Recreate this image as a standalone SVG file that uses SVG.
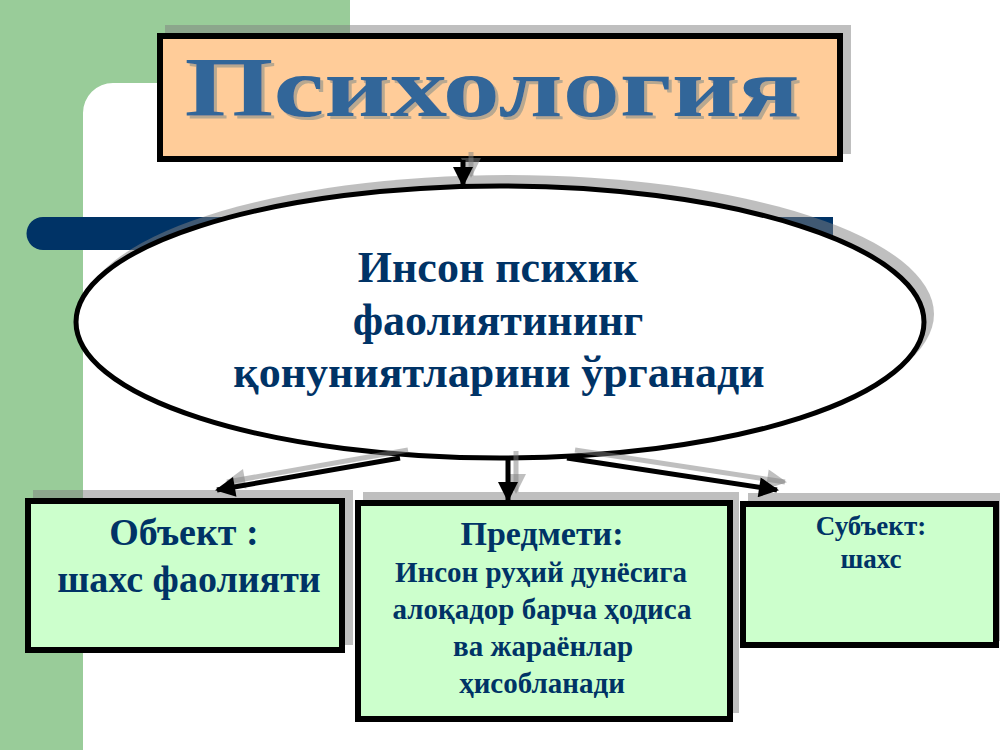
<svg xmlns="http://www.w3.org/2000/svg" width="1000" height="750" viewBox="0 0 1000 750">
<defs>
<style>
.sh{fill:#808080;fill-opacity:0.5}
.box{stroke:#000;stroke-width:6}
.t{font-family:"Liberation Serif","Times New Roman",serif;font-weight:bold;fill:#003366;text-anchor:middle}
.ln{stroke:#000;stroke-width:5;fill:none}
.lns{stroke:#808080;stroke-opacity:0.5;stroke-width:5;fill:none}
</style>
<filter id="tshadow" x="-5%" y="-20%" width="110%" height="140%">
<feOffset in="SourceAlpha" dx="3" dy="3" result="off"/>
<feFlood flood-color="#b8a890"/>
<feComposite operator="in" in2="off" result="shadow"/>
<feMerge><feMergeNode in="shadow"/><feMergeNode in="SourceGraphic"/></feMerge>
</filter>
<marker id="ah" viewBox="0 0 10 10" refX="9" refY="5" markerWidth="4.4" markerHeight="4" markerUnits="strokeWidth" orient="auto">
<path d="M0,0 L10,5 L0,10 z" fill="#000"/>
</marker>
<marker id="ahs" viewBox="0 0 10 10" refX="9" refY="5" markerWidth="4.4" markerHeight="4" markerUnits="strokeWidth" orient="auto">
<path d="M0,0 L10,5 L0,10 z" fill="#808080" fill-opacity="0.5"/>
</marker>
</defs>
<g id="background">
<rect x="0" y="0" width="1000" height="750" fill="#ffffff"/>
<path d="M0,0 H350 V83 H113 A30,30 0 0 0 83,113 V750 H0 Z" fill="#99cc99"/>
<path d="M43,217 H833 V250 H43 A16.5,16.5 0 0 1 43,217 Z" fill="#003366"/>
</g>
<g id="title">
<rect class="sh" x="165" y="25" width="686" height="129"/>
<rect class="box" x="160" y="36" width="680" height="123" fill="#ffcc99"/>
<text x="492" y="116" font-family="'Liberation Serif','Times New Roman',serif" font-weight="bold" font-size="85" fill="#336699" text-anchor="middle" textLength="615" lengthAdjust="spacingAndGlyphs" filter="url(#tshadow)">Психология</text>
</g>
<g id="ellipse">
<ellipse class="sh" cx="508" cy="314" rx="426" ry="139"/>
<ellipse cx="500" cy="322" rx="424" ry="136" fill="#ffffff" stroke="#000" stroke-width="5"/>
<text class="t" x="498" y="282" font-size="44">Инсон психик</text>
<text class="t" x="498" y="335" font-size="44">фаолиятининг</text>
<text class="t" x="499" y="387" font-size="44">қонуниятларини ўрганади</text>
</g>
<g id="box-object">
<rect class="sh" x="33" y="490" width="320" height="155"/>
<rect class="box" x="28" y="501" width="314" height="149" fill="#ccffcc"/>
<text class="t" x="184" y="545" font-size="38">Объект :</text>
<text class="t" x="189" y="592" font-size="38">шахс фаолияти</text>
</g>
<g id="box-subject-matter">
<rect class="sh" x="363" y="492" width="376" height="221"/>
<rect class="box" x="358" y="503" width="372" height="216" fill="#ccffcc"/>
<text class="t" x="542" y="545" font-size="34">Предмети:</text>
<text class="t" x="541" y="582" font-size="29">Инсон руҳий дунёсига</text>
<text class="t" x="542" y="619" font-size="29">алоқадор барча ҳодиса</text>
<text class="t" x="543" y="656" font-size="29">ва жараёнлар</text>
<text class="t" x="542" y="693" font-size="29">ҳисобланади</text>
</g>
<g id="box-subject">
<rect class="sh" x="748" y="493" width="260" height="148"/>
<rect class="box" x="743" y="504" width="253" height="141" fill="#ccffcc"/>
<text class="t" x="871" y="535" font-size="27">Субъект:</text>
<text class="t" x="871" y="568" font-size="27">шахс</text>
</g>
<g id="connectors">
<line class="lns" x1="471" y1="152" x2="471" y2="176" marker-end="url(#ahs)"/>
<line class="lns" x1="408" y1="450" x2="227" y2="482" marker-end="url(#ahs)"/>
<line class="lns" x1="516" y1="451" x2="516" y2="492" marker-end="url(#ahs)"/>
<line class="lns" x1="575" y1="450" x2="785" y2="482" marker-end="url(#ahs)"/>
<line class="ln" x1="463" y1="160" x2="463" y2="185" marker-end="url(#ah)"/>
<line class="ln" x1="400" y1="458" x2="217" y2="490" marker-end="url(#ah)"/>
<line class="ln" x1="508" y1="459" x2="508" y2="500" marker-end="url(#ah)"/>
<line class="ln" x1="567" y1="458" x2="777" y2="490" marker-end="url(#ah)"/>
</g>
</svg>
